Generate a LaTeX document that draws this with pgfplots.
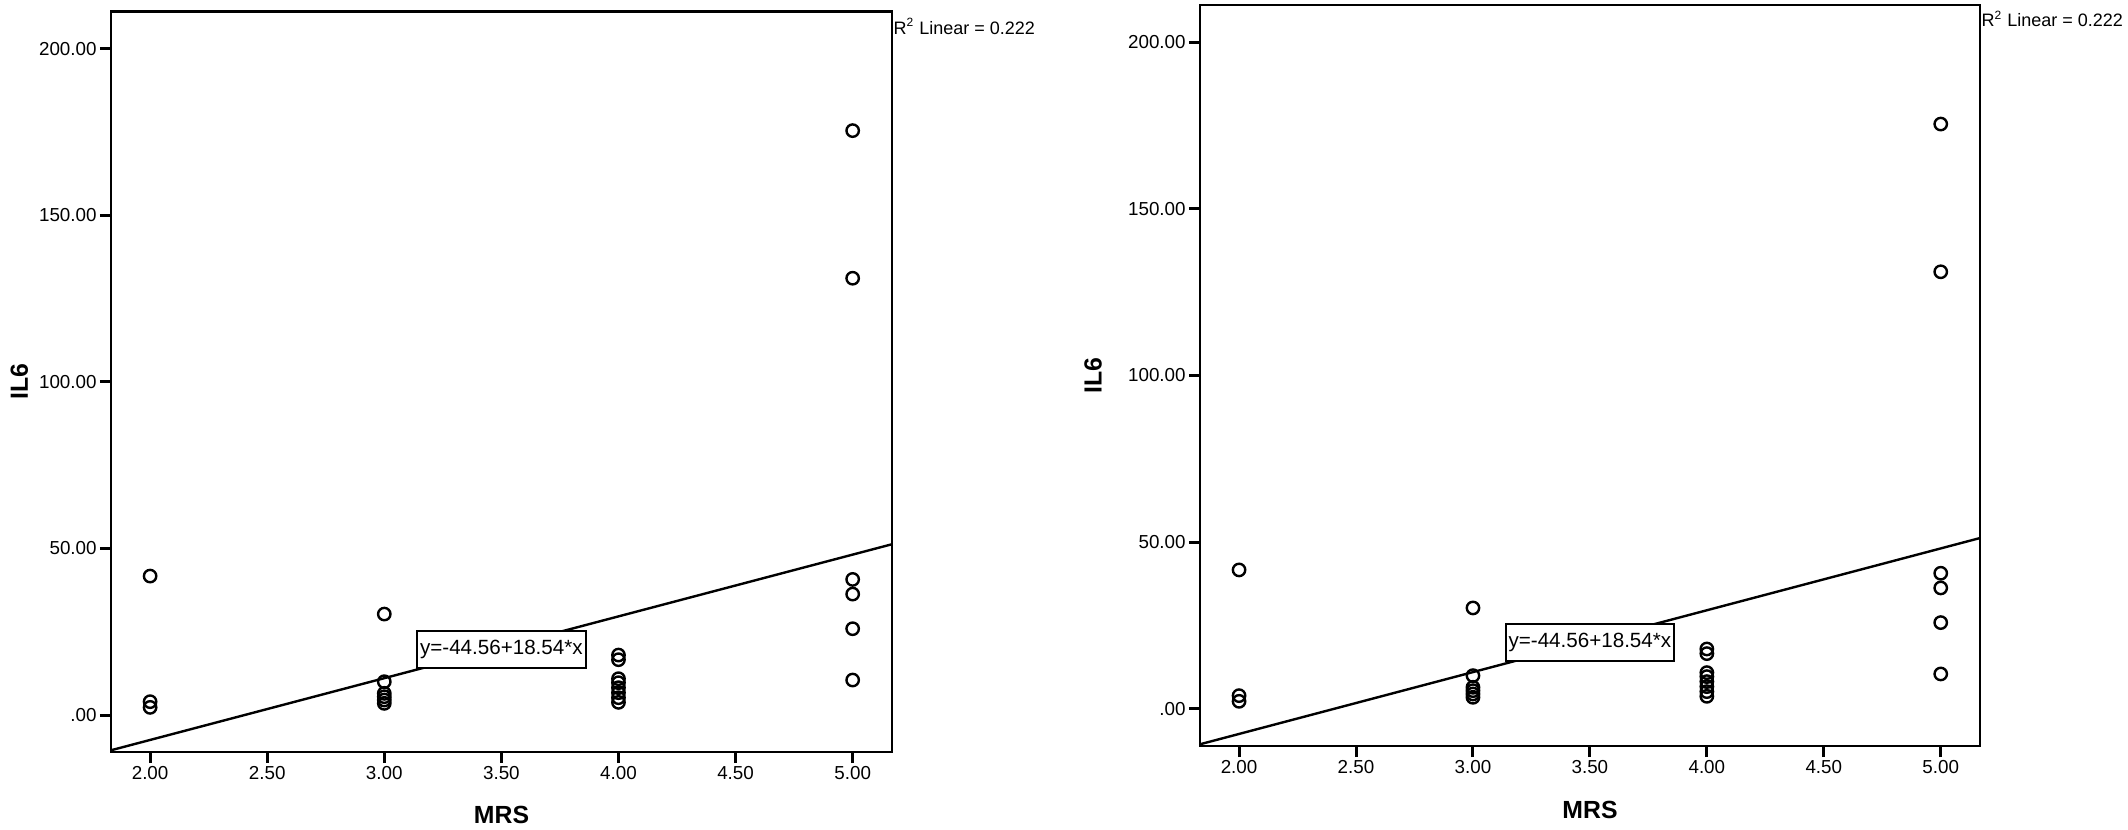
\documentclass[border=0pt]{standalone}
\usepackage{fontspec}
\setmainfont{Liberation Sans}
\usepackage{pgfplots}
\usepackage{pgfplotstable}
\pgfplotsset{compat=1.18}
\pgfplotstableread{
x y
2 41.7
2 4.0
2 2.3
3 30.3
3 10.0
3 6.5
3 5.5
3 4.5
3 3.5
4 18.0
4 16.6
4 10.9
4 9.7
4 8.2
4 6.7
4 5.2
4 3.8
5 175.4
5 131.1
5 40.7
5 36.3
5 25.9
5 10.5
}\datatab
\pgfplotsset{spss/.style={
  scale only axis,
  anchor=south west,
  xmin=1.833, xmax=5.168, ymin=-11.1, ymax=211.1,
  axis line style={line width=1.4pt},
  tick pos=left, tick align=outside,
  major tick length=5.5pt,
  tick style={line width=1.5pt, black},
  xtick={2,2.5,3,3.5,4,4.5,5},
  xticklabels={2.00,2.50,3.00,3.50,4.00,4.50,5.00},
  ytick={0,50,100,150,200},
  yticklabels={.00,50.00,100.00,150.00,200.00},
  tick label style={font=\fontsize{9.4}{11}\selectfont},
  yticklabel style={inner sep=1.5pt},
  xticklabel style={inner sep=1.5pt},
  xlabel={MRS}, ylabel={IL6},
  label style={font=\fontsize{12.4}{14}\selectfont\bfseries},
  clip=false,
}}
\begin{document}
\begin{tikzpicture}[x=1pt,y=1pt]
\useasboundingbox (0,0) rectangle (1064,414.5);
% left panel
\begin{axis}[spss, at={(55.5pt,38.5pt)}, width=390.5pt, height=370.15pt,
  xlabel style={at={(axis description cs:0.5,-0.0851)}, anchor=center},
  ylabel style={at={(axis description cs:-0.1175,0.5)}, anchor=center}]
\addplot[only marks, mark=o, mark size=3.1pt, mark options={line width=1.2pt}] table[x=x,y=y] {\datatab};
\addplot[line width=1.2pt] coordinates {(1.833,-10.58) (5.168,51.26)};
\node[draw, line width=1pt, fill=white, font=\fontsize{10.3}{12}\selectfont, inner xsep=1.5pt, minimum height=18.5pt] at (axis cs:3.5,19.6) {y=-44.56+18.54*x};
\node[anchor=base west, inner sep=0pt, xshift=0.6pt, yshift=-11.3pt, font=\fontsize{9}{11}\selectfont] at (rel axis cs:1,1) {R\textsuperscript{2} Linear = 0.222};
\end{axis}
% right panel
\begin{axis}[spss, at={(600pt,41.5pt)}, width=390pt, height=370.5pt,
  xlabel style={at={(axis description cs:0.5,-0.0857)}, anchor=center},
  ylabel style={at={(axis description cs:-0.1372,0.5)}, anchor=center}]
\addplot[only marks, mark=o, mark size=3.1pt, mark options={line width=1.2pt}] table[x=x,y=y] {\datatab};
\addplot[line width=1.2pt] coordinates {(1.833,-10.58) (5.168,51.26)};
\node[draw, line width=1pt, fill=white, font=\fontsize{10.3}{12}\selectfont, inner xsep=1.5pt, minimum height=18.5pt] at (axis cs:3.5,20.0) {y=-44.56+18.54*x};
\node[anchor=base west, inner sep=0pt, xshift=0.6pt, yshift=-10.9pt, font=\fontsize{9}{11}\selectfont] at (rel axis cs:1,1) {R\textsuperscript{2} Linear = 0.222};
\end{axis}
\end{tikzpicture}
\end{document}
